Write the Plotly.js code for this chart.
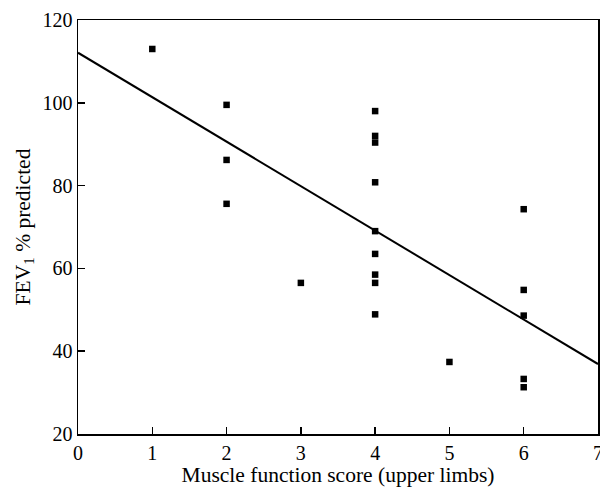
<!DOCTYPE html>
<html>
<head>
<meta charset="utf-8">
<script src="https://cdn.plot.ly/plotly-3.0.1.min.js"></script>
<style>html,body{margin:0;padding:0;background:#fff;}#chart{width:600px;height:490px;}</style>
</head>
<body>
<div id="chart"></div>
<script>
// Muscle function score (upper limbs) vs FEV1 % predicted
const scoreX = [1, 2, 2, 2, 3, 4, 4, 4, 4, 4, 4, 4, 4, 4, 5, 6, 6, 6, 6, 6];
const fev1Y  = [113.0, 99.5, 86.2, 75.6, 56.5, 98.0, 92.0, 90.4, 80.8, 69.0, 63.5, 58.5, 56.5, 48.9, 37.4, 74.3, 54.8, 48.6, 33.3, 31.3];
// Regression line end points
const fitX = [0, 7];
const fitY = [112.1, 36.9];
const xTicks = [0, 1, 2, 3, 4, 5, 6, 7];
const yTicks = [20, 40, 60, 80, 100, 120];

const font = {family: '"Liberation Serif", "DejaVu Serif", serif', color: '#000'};

const traces = [
  {x: fitX, y: fitY, mode: 'lines', type: 'scatter', line: {color: '#000', width: 2}, hoverinfo: 'skip'},
  {x: scoreX, y: fev1Y, mode: 'markers', type: 'scatter',
   marker: {symbol: 'square', size: 6.5, color: '#000'}}
];

const layout = {
  width: 600, height: 490,
  margin: {l: 78, r: 2, t: 20, b: 56},
  paper_bgcolor: '#fff', plot_bgcolor: '#fff',
  showlegend: false,
  font: Object.assign({size: 20}, font),
  xaxis: {
    range: [0, 7], tickvals: xTicks, ticktext: xTicks.map(String),
    showgrid: false, zeroline: false,
    showline: true, linecolor: '#000', linewidth: 1.5, mirror: true,
    ticks: 'inside', ticklen: 7, tickwidth: 1.5, tickcolor: '#000',
    ticklabeloverflow: 'allow',
    tickfont: Object.assign({size: 20}, font),
    title: {text: 'Muscle function score (upper limbs)', font: Object.assign({size: 21.5}, font), standoff: 4}
  },
  yaxis: {
    range: [20, 120], tickvals: yTicks, ticktext: yTicks.map(String),
    showgrid: false, zeroline: false,
    showline: true, linecolor: '#000', linewidth: 1.5, mirror: true,
    ticks: 'inside', ticklen: 7, tickwidth: 1.5, tickcolor: '#000',
    ticklabeloverflow: 'allow',
    tickfont: Object.assign({size: 20}, font),
    title: {text: 'FEV<sub>1</sub> % predicted', font: Object.assign({size: 21.5}, font), standoff: 6}
  }
};

Plotly.newPlot('chart', traces, layout, {displayModeBar: false, staticPlot: true});
</script>
</body>
</html>
